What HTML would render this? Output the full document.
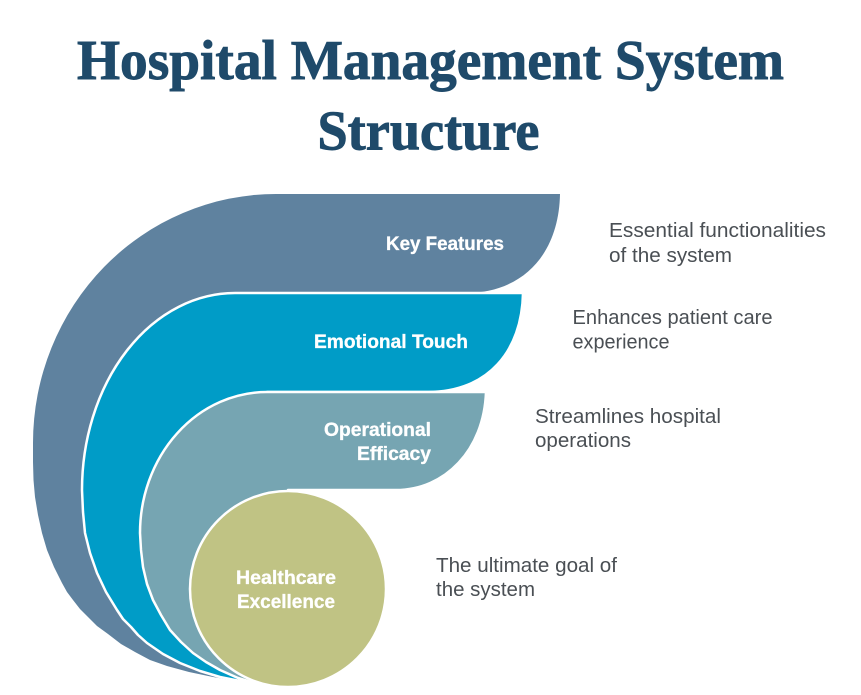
<!DOCTYPE html>
<html>
<head>
<meta charset="utf-8">
<style>
  html, body { margin: 0; padding: 0; background: #ffffff; }
  body { width: 861px; height: 695px; overflow: hidden; }
  svg { display: block; }
  .title { font-family: "Liberation Serif", "Times New Roman", serif; font-weight: bold; font-size: 56px; fill: #1f4a6a; stroke: #1f4a6a; stroke-width: 0.9px; }
  .lbl { font-family: "Liberation Sans", Arial, sans-serif; font-weight: bold; font-size: 19px; fill: #ffffff; stroke: #ffffff; stroke-width: 0.3px; }
  .desc { font-family: "Liberation Sans", Arial, sans-serif; font-size: 20px; fill: #4a4f54; }
</style>
</head>
<body>
<svg width="861" height="695" viewBox="0 0 861 695" xmlns="http://www.w3.org/2000/svg">
  <rect x="0" y="0" width="861" height="695" fill="#ffffff"/>

  <!-- Title -->
  <text class="title" x="77" y="79" textLength="707" lengthAdjust="spacingAndGlyphs">Hospital Management System</text>
  <text class="title" x="317.5" y="149.5" textLength="222" lengthAdjust="spacingAndGlyphs">Structure</text>

  <!-- Key Features (slate) -->
  <path d="M 276,194 L 560,194 C 559,252 525,293 465,293 L 235,293 L 235,450 L 258,684
           L 236,681 L 213,677 L 189,672 L 167,666 L 150,660 L 135,652 L 121,644 L 108,634 L 97,626 L 88,617 L 80,609 L 73,600 L 67,592 L 62,583 L 54,567 L 47,550
           L 42,533 L 38,515 L 35,497 L 33.5,480 L 33,462 L 33,443 A 243 249 0 0 1 276,194 Z"
        fill="#5f829f"/>

  <!-- Emotional Touch (blue) -->
  <path d="M 235,293 L 523,293 C 522,351 488,392 428,392 L 267,392 L 267,500 L 258,684
           L 240,681 L 220,677 L 200,671 L 180,663 L 163,654 L 147,643 L 138,635 L 131,627 L 123,619 L 117,610
           L 106,592 L 97,573 L 90,553 L 85,533 L 83,512 L 82,490 A 153 197 0 0 1 235,293 Z"
        fill="#009cc7" stroke="#ffffff" stroke-width="2.5" stroke-linejoin="round"/>

  <!-- Operational Efficacy (teal grey) -->
  <path d="M 267,392 L 486,392 C 484,450 445,490 396,490 L 288,490 L 288,589 L 258,684
           L 238,678 L 220,670 L 206,662 L 193,653 L 181,642 L 170,630 L 161,615 L 153,600
           L 147,584 L 143,567 L 141,550 L 140,533 A 127 141 0 0 1 267,392 Z"
        fill="#76a5b2" stroke="#ffffff" stroke-width="2.5" stroke-linejoin="round"/>

  <!-- Healthcare Excellence (olive circle) -->
  <circle cx="288" cy="589" r="98" fill="#c0c384" stroke="#ffffff" stroke-width="2.5"/>

  <!-- Labels inside shapes -->
  <text class="lbl" x="386" y="250" textLength="118" lengthAdjust="spacingAndGlyphs">Key Features</text>
  <text class="lbl" x="314" y="348" textLength="154" lengthAdjust="spacingAndGlyphs">Emotional Touch</text>
  <text class="lbl" x="324" y="436" textLength="107" lengthAdjust="spacingAndGlyphs">Operational</text>
  <text class="lbl" x="357" y="460" textLength="74" lengthAdjust="spacingAndGlyphs">Efficacy</text>
  <text class="lbl" x="236" y="584" textLength="100" lengthAdjust="spacingAndGlyphs">Healthcare</text>
  <text class="lbl" x="237" y="608" textLength="98" lengthAdjust="spacingAndGlyphs">Excellence</text>

  <!-- Descriptions -->
  <text class="desc" x="609" y="237" textLength="217" lengthAdjust="spacingAndGlyphs">Essential functionalities</text>
  <text class="desc" x="609" y="262" textLength="123" lengthAdjust="spacingAndGlyphs">of the system</text>

  <text class="desc" x="572.5" y="324" textLength="200" lengthAdjust="spacingAndGlyphs">Enhances patient care</text>
  <text class="desc" x="572.5" y="348.5" textLength="97" lengthAdjust="spacingAndGlyphs">experience</text>

  <text class="desc" x="535" y="423" textLength="186" lengthAdjust="spacingAndGlyphs">Streamlines hospital</text>
  <text class="desc" x="535" y="447" textLength="96" lengthAdjust="spacingAndGlyphs">operations</text>

  <text class="desc" x="436" y="572" textLength="181" lengthAdjust="spacingAndGlyphs">The ultimate goal of</text>
  <text class="desc" x="436" y="596" textLength="99" lengthAdjust="spacingAndGlyphs">the system</text>
</svg>
</body>
</html>
